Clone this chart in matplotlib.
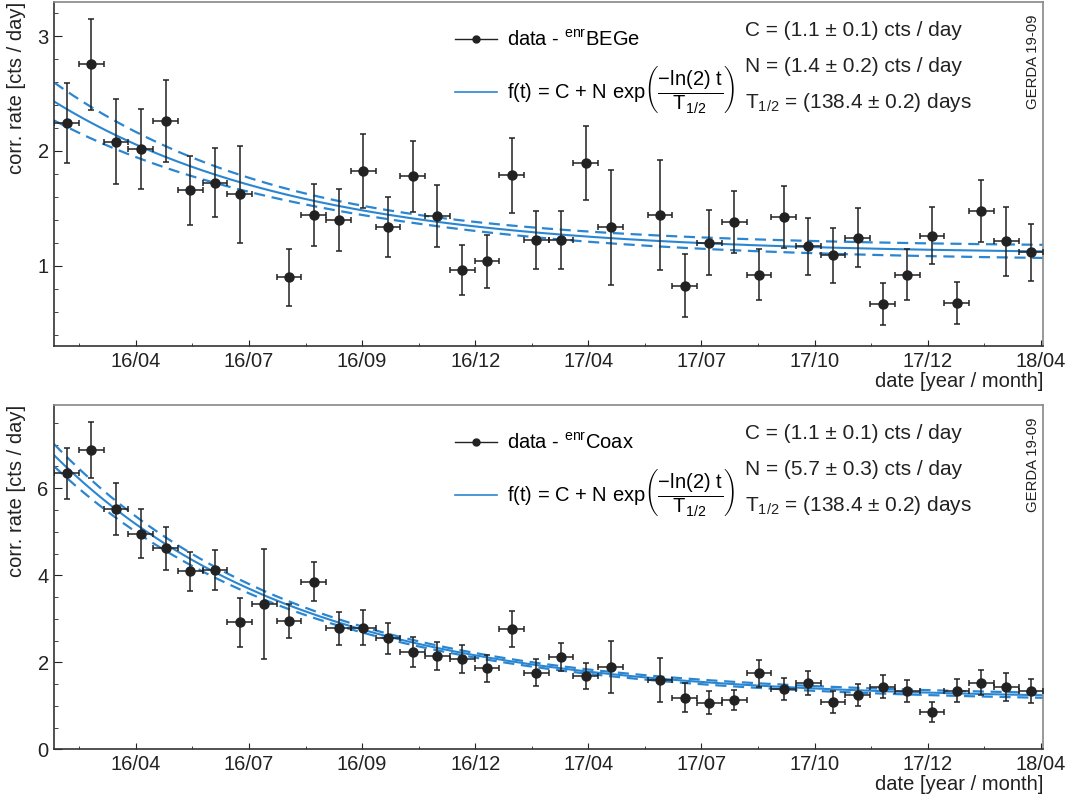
import numpy as np
import matplotlib
matplotlib.use('Agg')
import matplotlib.pyplot as plt
from matplotlib.ticker import FixedLocator, MultipleLocator
from matplotlib.lines import Line2D

plt.rcParams['font.family'] = ['Liberation Sans', 'DejaVu Sans']
plt.rcParams['mathtext.fontset'] = 'custom'
plt.rcParams['mathtext.rm'] = 'Liberation Sans'
plt.rcParams['mathtext.it'] = 'Liberation Sans:italic'
plt.rcParams['mathtext.bf'] = 'Liberation Sans:bold'
plt.rcParams['mathtext.default'] = 'regular'

######################################################################
# Data (x = days since start of run, 20 day bins)
######################################################################

bege_day = [10, 30, 50, 70, 90, 110, 130, 150, 190, 210, 230, 250, 270, 290,
            310, 330, 350, 370, 390, 410, 430, 450, 490, 510, 530, 550, 570,
            590, 610, 630, 650, 670, 690, 710, 730, 750, 770, 790]
bege_rate = [2.245, 2.753, 2.079, 2.018, 2.259, 1.657, 1.722, 1.620, 0.899,
             1.439, 1.396, 1.823, 1.335, 1.779, 1.431, 0.963, 1.038, 1.786,
             1.222, 1.222, 1.896, 1.335, 1.443, 0.824, 1.201, 1.382, 0.922,
             1.422, 1.167, 1.091, 1.245, 0.667, 0.922, 1.262, 0.676, 1.472,
             1.213, 1.117]
bege_err = [0.35, 0.40, 0.37, 0.35, 0.355, 0.30, 0.30, 0.42, 0.25, 0.27, 0.27,
            0.32, 0.26, 0.31, 0.27, 0.22, 0.23, 0.33, 0.25, 0.25, 0.32, 0.50,
            0.48, 0.275, 0.285, 0.27, 0.22, 0.27, 0.245, 0.24, 0.255, 0.185,
            0.22, 0.25, 0.185, 0.27, 0.30, 0.25]

coax_day = [10, 30, 50, 70, 90, 110, 130, 150, 170, 190, 210, 230, 250, 270,
            290, 310, 330, 350, 370, 390, 410, 430, 450, 490, 510, 530, 550,
            570, 590, 610, 630, 650, 670, 690, 710, 730, 750, 770, 790]
coax_rate = [6.345, 6.88, 5.524, 4.956, 4.62, 4.09, 4.11, 2.92, 3.34, 2.95,
             3.853, 2.78, 2.796, 2.55, 2.245, 2.145, 2.076, 1.862, 2.766,
             1.754, 2.129, 1.678, 1.90, 1.593, 1.186, 1.072, 1.134, 1.747,
             1.386, 1.524, 1.094, 1.248, 1.44, 1.34, 0.857, 1.348, 1.532,
             1.44, 1.34]
coax_err = [0.59, 0.64, 0.60, 0.56, 0.50, 0.45, 0.46, 0.565, 1.27, 0.40,
            0.445, 0.375, 0.40, 0.355, 0.345, 0.325, 0.325, 0.31, 0.41, 0.31,
            0.32, 0.30, 0.60, 0.51, 0.33, 0.26, 0.235, 0.305, 0.26, 0.27,
            0.25, 0.25, 0.27, 0.26, 0.22, 0.27, 0.28, 0.32, 0.27]

bin_half = 10

# fit f(t) = C + N exp(-ln2 t / T1/2)
half_life = 138.4
t_shift = 3
bege_C, bege_N, bege_sC, bege_sN, bege_rho = 1.10, 1.35, 0.06, 0.21, -0.77
coax_C, coax_N, coax_sC, coax_sN, coax_rho = 1.14, 5.70, 0.061, 0.29, -0.58

month_ticks = [66, 157.5, 249, 340.5, 432, 523.5, 615, 706.5, 798]
month_labels = ['16/04', '16/07', '16/09', '16/12', '17/04', '17/07',
                '17/10', '17/12', '18/04']

######################################################################
# Drawing
######################################################################

blue = '#2b86d1'
dark = '#222222'
fs = 14.5


def draw_panel(ax, day, rate, err, C, N, sC, sN, rho, det, c_txt, n_txt,
               ylo, yhi, ymaj, ymin):
    xs = np.linspace(0, 800, 500)
    e = np.exp(-np.log(2) * (xs + t_shift) / half_life)
    f = C + N * e
    sig = np.sqrt(sC**2 + (e * sN)**2 + 2 * rho * sC * sN * e)
    ax.plot(xs, f, color=blue, lw=1.5, zorder=2)
    ax.plot(xs, f + sig, color=blue, lw=1.6, ls=(0, (5, 3)), zorder=2)
    ax.plot(xs, f - sig, color=blue, lw=1.6, ls=(0, (5, 3)), zorder=2)

    ax.errorbar(day, rate, yerr=err, xerr=bin_half, fmt='o', color=dark,
                ms=6.5, elinewidth=1.1, capsize=2.2, capthick=1.1, zorder=3)

    ax.set_xlim(0, 800)
    ax.set_ylim(ylo, yhi)
    ax.xaxis.set_major_locator(FixedLocator(month_ticks))
    ax.set_xticklabels(month_labels)
    step = (month_ticks[1] - month_ticks[0]) / 2
    minors = [month_ticks[0] - step] + [t + step for t in month_ticks[:-1]]
    ax.xaxis.set_minor_locator(FixedLocator(minors))
    ax.yaxis.set_major_locator(MultipleLocator(ymaj))
    ax.yaxis.set_minor_locator(MultipleLocator(ymin))

    ax.tick_params(axis='both', which='both', direction='in', colors=dark,
                   labelsize=fs, top=False, right=False, pad=4)
    ax.tick_params(axis='x', which='major', length=4.5)
    ax.tick_params(axis='x', which='minor', length=2.5)
    ax.tick_params(axis='y', which='major', length=5.5)
    ax.tick_params(axis='y', which='minor', length=3)

    for s in ['left', 'bottom']:
        ax.spines[s].set_color('#333333')
        ax.spines[s].set_linewidth(1.2)
    for s in ['top', 'right']:
        ax.spines[s].set_color('#888888')
        ax.spines[s].set_linewidth(1.2)

    ax.text(-0.038, 1.0, 'corr. rate [cts / day]', transform=ax.transAxes,
            rotation=90, ha='center', va='top', fontsize=fs, color=dark)
    ax.text(1.0, -0.102, 'date [year / month]', transform=ax.transAxes,
            ha='right', va='center', fontsize=fs, color=dark)

    # legend like ROOT's "lp" / "l" entries
    handles = [Line2D([], [], color=dark, marker='o', ms=5, lw=1.0),
               Line2D([], [], color=blue, lw=1.2)]
    labels = ['data - $^{enr}$' + det,
              r'f(t) = C + N exp$\left(\dfrac{-ln(2)\ t}{T_{1/2}}\right)$']
    ax.legend(handles, labels, loc='upper left', bbox_to_anchor=(0.405, 0.917),
              frameon=False, fontsize=fs, handlelength=2.1, handletextpad=0.5,
              labelspacing=0.7, borderpad=0, borderaxespad=0)

    ax.text(0.6984, 0.899, c_txt, transform=ax.transAxes, fontsize=15,
            va='baseline', color=dark)
    ax.text(0.6984, 0.795, n_txt, transform=ax.transAxes, fontsize=15,
            va='baseline', color=dark)
    ax.text(0.6984, 0.692, r'$T_{1/2}$ = (138.4 ± 0.2) days',
            transform=ax.transAxes, fontsize=15, va='baseline', color=dark)
    ax.text(0.9894, 0.826, 'GERDA 19-09', transform=ax.transAxes,
            rotation=90, ha='center', va='center', fontsize=10.7, color=dark)


fig = plt.figure(figsize=(10.7, 8.02), dpi=100)
ax1 = fig.add_axes([0.0507, 0.5686, 0.9243, 0.4293])
ax2 = fig.add_axes([0.0507, 0.0657, 0.9243, 0.4297])

draw_panel(ax1, bege_day, bege_rate, bege_err, bege_C, bege_N, bege_sC,
           bege_sN, bege_rho, 'BEGe', 'C = (1.1 ± 0.1) cts / day',
           'N = (1.4 ± 0.2) cts / day', 0.3, 3.3, 1, 0.2)
draw_panel(ax2, coax_day, coax_rate, coax_err, coax_C, coax_N, coax_sC,
           coax_sN, coax_rho, 'Coax', 'C = (1.1 ± 0.1) cts / day',
           'N = (5.7 ± 0.3) cts / day', 0, 7.92, 2, 0.5)

fig.savefig('out.png', dpi=100)
